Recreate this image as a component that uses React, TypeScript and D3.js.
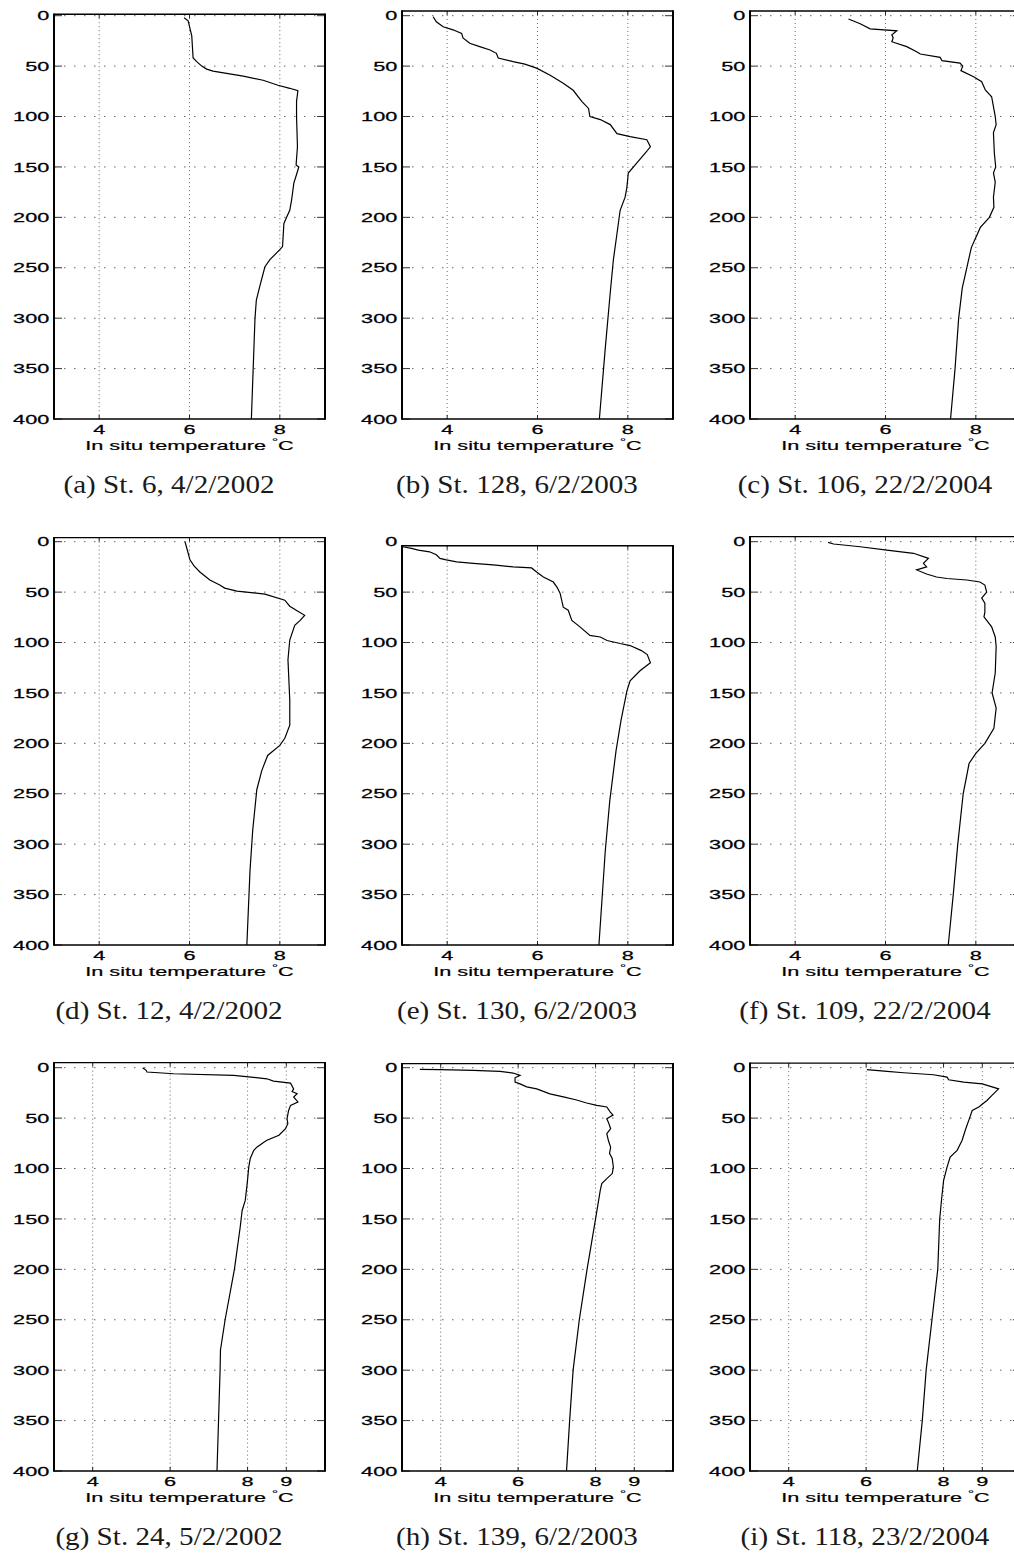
import React from 'react';
import * as d3 from 'd3';

// ---------- data ----------
const depthTicks = [0, 50, 100, 150, 200, 250, 300, 350, 400];
const tempTicksRow12 = [4, 6, 8];
const tempTicksRow3 = [4, 6, 8, 9];
const tempDomainRow12: [number, number] = [3, 9];
const tempDomainRow3: [number, number] = [3, 10];

const captions = [
  '(a) St. 6, 4/2/2002', '(b) St. 128, 6/2/2003', '(c) St. 106, 22/2/2004',
  '(d) St. 12, 4/2/2002', '(e) St. 130, 6/2/2003', '(f) St. 109, 22/2/2004',
  '(g) St. 24, 5/2/2002', '(h) St. 139, 6/2/2003', '(i) St. 118, 23/2/2004',
];

// depth (m), in situ temperature (°C)
const profileA: [number, number][] = [
  [2, 5.88], [5, 5.97], [20, 6.05], [42, 6.08], [45.6, 6.16], [50, 6.27], [53, 6.38], [55, 6.52],
  [60, 7.19], [64, 7.63], [69, 7.96], [72, 8.22], [74.4, 8.4], [85, 8.37], [100, 8.37], [130, 8.39],
  [148, 8.36], [150, 8.42], [156, 8.38], [166, 8.31], [183, 8.26], [193, 8.22], [200, 8.15], [206, 8.09],
  [229, 8.06], [232, 8.0], [242, 7.78], [249, 7.67], [266, 7.57], [282, 7.48], [300, 7.45], [350, 7.41], [400, 7.37],
];
const profileB: [number, number][] = [
  [1, 3.69], [6, 3.76], [11, 3.91], [14, 4.13], [17.5, 4.32], [22, 4.35], [27.4, 4.5], [30.7, 4.72],
  [34, 4.95], [37.3, 5.09], [42, 5.13], [45.6, 5.46], [48, 5.72], [52, 5.98], [59, 6.28], [67, 6.57],
  [74, 6.79], [85, 6.98], [92, 7.13], [100, 7.16], [103, 7.39], [108, 7.61], [117, 7.76], [120, 8.05],
  [123, 8.42], [130, 8.5], [136.5, 8.38], [146, 8.2], [156, 8.01], [170, 7.98], [180, 7.94], [193, 7.83],
  [216, 7.76], [242, 7.68], [275, 7.61], [330, 7.5], [400, 7.37],
];
const profileC: [number, number][] = [
  [3.3, 5.18], [8, 5.44], [13, 5.66], [15, 6.25], [16.5, 6.21], [19, 6.14], [22, 6.17], [25.8, 6.14],
  [30.7, 6.47], [35.7, 6.69], [38, 6.77], [41.3, 7.21], [44.6, 7.25], [47, 7.65], [50, 7.71], [54.5, 7.67],
  [60.5, 7.95], [65.5, 8.13], [73.7, 8.21], [80.4, 8.35], [100, 8.43], [108, 8.45], [116, 8.39],
  [136.5, 8.41], [150, 8.44], [156, 8.39], [165, 8.43], [180, 8.39], [190, 8.4], [200, 8.3], [210, 8.1],
  [230, 7.9], [250, 7.8], [270, 7.7], [300, 7.62], [350, 7.54], [400, 7.44],
];
const profileD: [number, number][] = [
  [0, 5.9], [8, 5.95], [18, 6.01], [24, 6.1], [30, 6.23], [38, 6.45], [43, 6.67], [46, 6.78], [49, 7.05],
  [52, 7.67], [58, 8.11], [64, 8.22], [69, 8.4], [73, 8.55], [78, 8.45], [83, 8.33], [97.5, 8.22],
  [117, 8.18], [137, 8.2], [157, 8.22], [182, 8.22], [195, 8.11], [202, 8.0], [212, 7.73], [227, 7.6],
  [246, 7.49], [286, 7.4], [326, 7.34], [400, 7.27],
];
const profileE: [number, number][] = [
  [5, 3.02], [6.6, 3.21], [8.3, 3.36], [10, 3.61], [13, 3.76], [16.5, 3.84], [18, 3.98], [20, 4.21],
  [21.5, 4.58], [23, 5.02], [25, 5.46], [26, 5.87], [30, 5.98], [35, 6.13], [40, 6.35], [45, 6.43],
  [51, 6.5], [65, 6.57], [68, 6.68], [78, 6.76], [84.5, 6.94], [93, 7.16], [94.5, 7.39], [98, 7.54],
  [101, 7.83], [103, 8.05], [108, 8.3], [112, 8.43], [120, 8.5], [128, 8.27], [138, 8.05], [148, 7.98],
  [177, 7.85], [207, 7.74], [257, 7.6], [307, 7.5], [400, 7.36],
];
const profileF: [number, number][] = [
  [0.6, 4.73], [2.3, 4.85], [5, 5.44], [8.3, 6.03], [11.5, 6.62], [16.5, 6.95], [21.5, 6.84], [25, 6.91],
  [26.5, 6.8], [28, 6.69], [32, 6.91], [35, 7.13], [36.5, 7.36], [38, 7.8], [40, 8.09], [43, 8.2],
  [50, 8.24], [56, 8.13], [61, 8.2], [70, 8.2], [74.5, 8.18], [84.5, 8.35], [94.5, 8.43], [104, 8.45],
  [130, 8.43], [150, 8.36], [165, 8.45], [185, 8.4], [200, 8.2], [210, 8.0], [220, 7.85], [250, 7.72],
  [300, 7.6], [350, 7.5], [400, 7.39],
];
const profileG: [number, number][] = [
  [0, 5.29], [2.6, 5.38], [4.3, 5.4], [6, 6.09], [7.6, 7.64], [11, 8.5], [13.3, 8.67], [15.3, 9.11],
  [21, 9.19], [23.6, 9.15], [25.8, 9.28], [29, 9.19], [34, 9.3], [37.4, 9.11], [42.4, 9.06], [50.6, 9.02],
  [55.6, 9.04], [60.5, 8.98], [67, 8.81], [72, 8.5], [74, 8.42], [78.8, 8.24], [82, 8.16], [90, 8.07],
  [98.6, 8.03], [115, 7.99], [131.6, 7.94], [141.6, 7.86], [158, 7.81], [200, 7.66], [250, 7.42],
  [280, 7.3], [300, 7.29], [400, 7.21],
];
const profileH: [number, number][] = [
  [1.7, 3.46], [2, 3.98], [2.7, 4.84], [3.7, 5.53], [5.3, 5.87], [7.6, 6.05], [10, 5.92], [14.3, 5.92],
  [16, 6.05], [19, 6.22], [21, 6.48], [26, 6.82], [29, 7.17], [32, 7.51], [35, 7.77], [37.4, 8.03],
  [39, 8.29], [44, 8.38], [47, 8.45], [50.6, 8.29], [54, 8.33], [60.5, 8.39], [65.5, 8.29], [72, 8.33],
  [79, 8.39], [85, 8.36], [90, 8.43], [98.6, 8.46], [105, 8.43], [110, 8.29], [115, 8.16], [122, 8.12],
  [150, 8.0], [200, 7.78], [250, 7.58], [300, 7.42], [350, 7.33], [400, 7.25],
];
const profileI: [number, number][] = [
  [2, 6.02], [3.7, 6.54], [5, 6.97], [7, 7.74], [9.3, 8.09], [12, 8.13], [14.3, 8.52], [16, 9.0],
  [21, 9.42], [27.5, 9.25], [32.5, 9.12], [39, 8.91], [42.4, 8.74], [49, 8.68], [62, 8.56], [72, 8.48],
  [82, 8.35], [88.7, 8.17], [98.6, 8.09], [112, 8.0], [130, 7.95], [150, 7.9], [200, 7.85], [250, 7.7],
  [300, 7.55], [350, 7.45], [400, 7.32],
];

const profiles = [profileA, profileB, profileC, profileD, profileE, profileF, profileG, profileH, profileI];
const topDepths = [-1.5, -4.7, -4.7, -4, 4, -5, -5, -4, -4.5];

// ---------- layout ----------
const W = 1014;
const H = 1555;
const colLeft = 54;
const colStep = 348;
const plotW = 271;
const rowTop0 = 15.7;
const rowStep = 526;
const plotH = 403.3;
const SX = 1.67;
const AX_FONT = "'Liberation Sans', Arial, Helvetica, sans-serif";
const CAP_FONT = "'Liberation Serif', 'Times New Roman', serif";

function Panel({ idx }: { idx: number }) {
  const row = Math.floor(idx / 3);
  const col = idx % 3;
  const left = colLeft + colStep * col;
  const y0 = rowTop0 + rowStep * row;
  const isBottom = row === 2;
  const xTicks = isBottom ? tempTicksRow3 : tempTicksRow12;
  const x = d3.scaleLinear().domain(isBottom ? tempDomainRow3 : tempDomainRow12).range([left, left + plotW]);
  const y = d3.scaleLinear().domain([0, 400]).range([y0, y0 + plotH]);
  const top = y(topDepths[idx]);
  const bottom = y(400);
  const right = left + plotW;
  const line = d3.line<[number, number]>().x((d) => x(d[1])).y((d) => y(d[0]));
  const clipId = `clip${idx}`;
  const capX = 169 + colStep * col;
  return (
    <g>
      <defs>
        <clipPath id={clipId}>
          <rect x={left} y={top} width={plotW} height={bottom - top} />
        </clipPath>
      </defs>
      {/* grid */}
      {xTicks.map((t) => (
        <line key={'vg' + t} x1={x(t)} x2={x(t)} y1={top} y2={bottom} stroke="#666" strokeWidth={1} strokeDasharray="1 3" />
      ))}
      {depthTicks.filter((t) => t >= topDepths[idx] && t < 400).map((t) => (
        <line key={'hg' + t} x1={left} x2={right} y1={y(t)} y2={y(t)} stroke="#666" strokeWidth={1} strokeDasharray="1.5 8.5" />
      ))}
      {/* ticks */}
      {xTicks.map((t) => (
        <g key={'xt' + t}>
          <line x1={x(t)} x2={x(t)} y1={bottom} y2={bottom - 4} stroke="#222" strokeWidth={1} />
          <line x1={x(t)} x2={x(t)} y1={top} y2={top + 4} stroke="#222" strokeWidth={1} />
        </g>
      ))}
      {depthTicks.filter((t) => t >= topDepths[idx]).map((t) => (
        <g key={'yt' + t}>
          <line x1={left} x2={left + 8} y1={y(t)} y2={y(t)} stroke="#333" strokeWidth={1} />
          <line x1={right} x2={right - 8} y1={y(t)} y2={y(t)} stroke="#333" strokeWidth={1} />
        </g>
      ))}
      {/* profile */}
      <path d={line(profiles[idx]) || ''} fill="none" stroke="#000" strokeWidth={1.2} clipPath={`url(#${clipId})`} />
      {/* box */}
      <line x1={left} x2={right} y1={top} y2={top} stroke="#000" strokeWidth={1.4} />
      <line x1={left} x2={right} y1={bottom} y2={bottom} stroke="#000" strokeWidth={1.6} />
      <line x1={left} x2={left} y1={top - 0.7} y2={bottom + 0.8} stroke="#000" strokeWidth={2} />
      <line x1={right} x2={right} y1={top - 0.7} y2={bottom + 0.8} stroke="#000" strokeWidth={2} />
      {/* y tick labels */}
      {depthTicks.map((t) => (
        <text key={'yl' + t} transform={`translate(${left - 4.7},${y(t) + 4.6}) scale(${SX},1)`} textAnchor="end"
          fontFamily={AX_FONT} fontSize={13} fill="#000" stroke="#000" strokeWidth={0.25}>{t}</text>
      ))}
      {/* x tick labels */}
      {xTicks.map((t) => (
        <text key={'xl' + t} transform={`translate(${x(t)},${bottom + 15}) scale(${SX},1)`} textAnchor="middle"
          fontFamily={AX_FONT} fontSize={13} fill="#000" stroke="#000" strokeWidth={0.25}>{t}</text>
      ))}
      {/* x axis label */}
      <text transform={`translate(${left + plotW / 2},${bottom + 30.5}) scale(${SX},1)`} textAnchor="middle"
        fontFamily={AX_FONT} fontSize={13} fill="#000" stroke="#000" strokeWidth={0.2}>
        In situ temperature <tspan fontSize={9} dy={-4.5}>°</tspan><tspan dy={4.5}>C</tspan>
      </text>
      {/* caption */}
      <text transform={`translate(${capX},${y0 + 477}) scale(1.12,1)`} textAnchor="middle" fontFamily={CAP_FONT}
        fontSize={26} fill="#1a1a1a">{captions[idx]}</text>
    </g>
  );
}

export default function App() {
  return (
    <svg width={W} height={H} viewBox={`0 0 ${W} ${H}`} style={{ position: 'absolute', left: 0, top: 0, background: '#fff' }}>
      <rect x={0} y={0} width={W} height={H} fill="#fff" />
      {profiles.map((_, i) => (
        <Panel key={i} idx={i} />
      ))}
    </svg>
  );
}
